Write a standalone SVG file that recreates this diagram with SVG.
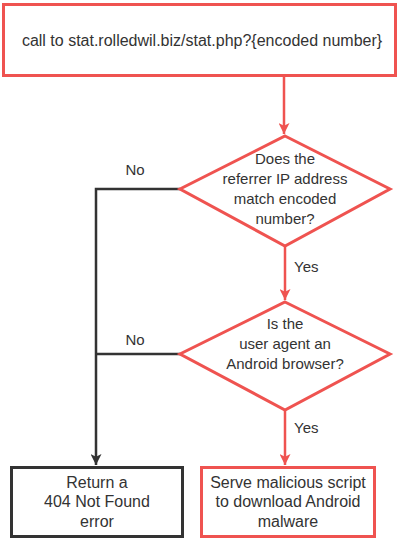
<svg xmlns="http://www.w3.org/2000/svg" width="400" height="540" viewBox="0 0 400 540">
<defs>
<style>
text{font-family:"Liberation Sans","DejaVu Sans",sans-serif;font-size:15px;fill:#333;text-anchor:middle}
.big{font-size:16px}
.red{fill:#fff;stroke:#ef5350;stroke-width:3}
.dark{fill:#fff;stroke:#333;stroke-width:3}
.rl{fill:none;stroke:#ef5350;stroke-width:2.5}
.dl{fill:none;stroke:#333;stroke-width:2.5}
.lbl{text-anchor:start}
</style>
<marker id="ar" viewBox="0 0 10 10" refX="10" refY="5" markerWidth="4.4" markerHeight="4.4" orient="auto" markerUnits="strokeWidth"><path d="M0,0 L10,5 L0,10 L2.5,5 Z" fill="#ef5350"/></marker>
<marker id="ad" viewBox="0 0 10 10" refX="10" refY="5" markerWidth="4.4" markerHeight="4.4" orient="auto" markerUnits="strokeWidth"><path d="M0,0 L10,5 L0,10 L2.5,5 Z" fill="#333"/></marker>
</defs>
<g id="connectors">
<path class="rl" d="M284,76 V134" marker-end="url(#ar)"/>
<path class="rl" d="M285,246 V300" marker-end="url(#ar)"/>
<path class="rl" d="M285,410 V465" marker-end="url(#ar)"/>
<path class="dl" d="M180,189 H96 V465" marker-end="url(#ad)"/>
<path class="dl" d="M180,354 H96"/>
<text x="135" y="175">No</text>
<text x="135" y="345">No</text>
<text class="lbl" x="294" y="272">Yes</text>
<text class="lbl" x="294" y="433">Yes</text>
</g>
<g id="start">
<rect class="red" x="3.5" y="4.5" width="392" height="71"/>
<text class="big" x="202" y="46">call to stat.rolledwil.biz/stat.php?{encoded number}</text>
</g>
<g id="decision1">
<polygon class="red" points="285,136 390,189 285,246 180,189"/>
<text x="285" y="164">Does the</text>
<text x="285" y="184">referrer IP address</text>
<text x="285" y="204">match encoded</text>
<text x="285" y="224">number?</text>
</g>
<g id="decision2">
<polygon class="red" points="285,302 390,354 285,410 180,354"/>
<text x="285" y="329">Is the</text>
<text x="285" y="349">user agent an</text>
<text x="285" y="369">Android browser?</text>
</g>
<g id="notfound">
<rect class="dark" x="11.5" y="467.5" width="171" height="69"/>
<text class="big" x="97" y="488">Return a</text>
<text class="big" x="97" y="507">404 Not Found</text>
<text class="big" x="97" y="527">error</text>
</g>
<g id="malware">
<rect class="red" x="201.5" y="467.5" width="173" height="69"/>
<text class="big" x="288" y="488">Serve malicious script</text>
<text class="big" x="288" y="507">to download Android</text>
<text class="big" x="288" y="527">malware</text>
</g>
</svg>
